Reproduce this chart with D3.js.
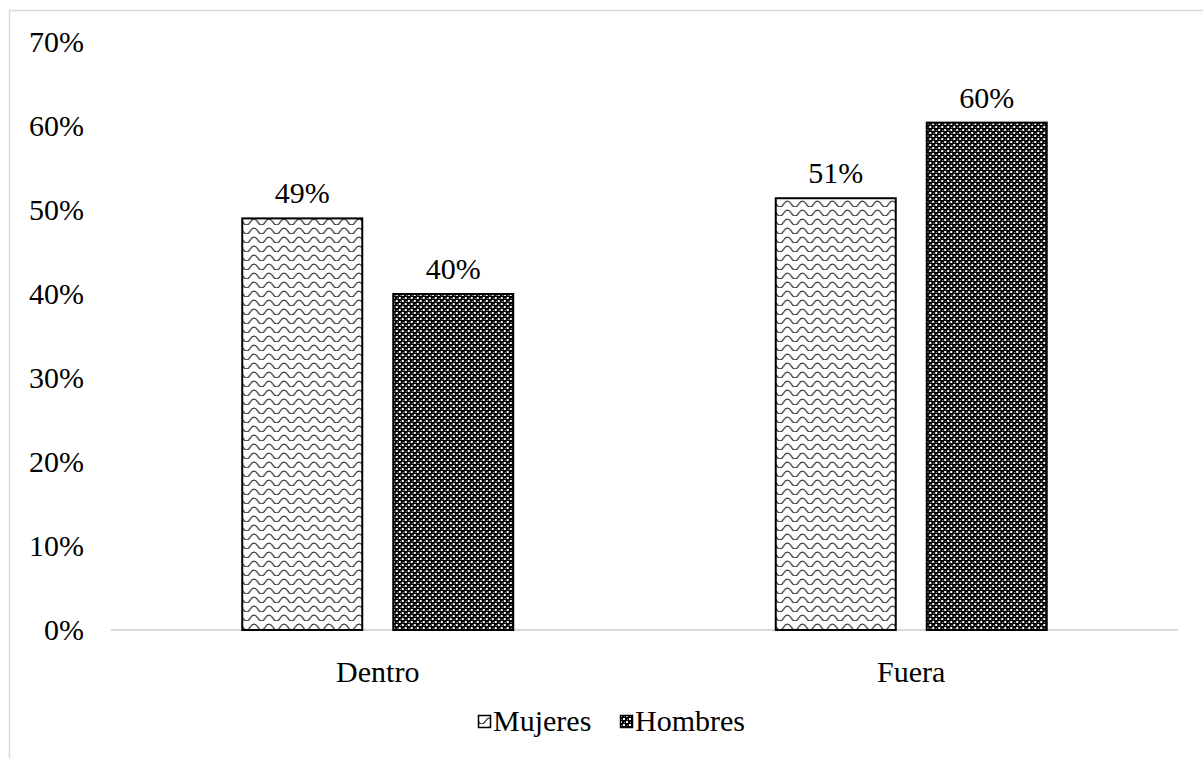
<!DOCTYPE html>
<html>
<head>
<meta charset="utf-8">
<script src="https://cdn.jsdelivr.net/npm/d3@7"></script>
<style>
  html, body { margin: 0; padding: 0; background: #fff; }
  svg { display: block; }
  text { font-family: "Liberation Serif", "DejaVu Serif", serif; fill: #000; }
</style>
</head>
<body>
<svg id="chart" width="1203" height="758"></svg>
<script>
// Share of men and women, inside vs. outside
const categories = ["Dentro", "Fuera"];
const seriesNames = ["Mujeres", "Hombres"];
const mujeres = [0.49, 0.514];
const hombres = [0.40, 0.604];
const yTicks = [0, 0.1, 0.2, 0.3, 0.4, 0.5, 0.6, 0.7];

const svg = d3.select("#chart");
const W = 1203, H = 758;
const plot = { left: 111, right: 1178, top: 42, bottom: 630 };

// Outer chart frame
svg.append("rect")
  .attr("x", 9.5).attr("y", 10.5)
  .attr("width", W).attr("height", H)
  .attr("fill", "#fff").attr("stroke", "#d9d9d9").attr("stroke-width", 1.5);

// Fill patterns
const defs = svg.append("defs");

// Wave pattern for Mujeres
const wave = defs.append("pattern")
  .attr("id", "pat-wave").attr("patternUnits", "userSpaceOnUse")
  .attr("width", 15).attr("height", 9);
wave.append("rect").attr("width", 15).attr("height", 9).attr("fill", "#fff");
wave.append("path")
  .attr("d", "M-7.5,6 Q-3.75,0 0,6 T7.5,6 T15,6 T22.5,6")
  .attr("fill", "none").attr("stroke", "#1a1a1a").attr("stroke-width", 1.1);

// Dotted checker pattern for Hombres
const dots = defs.append("pattern")
  .attr("id", "pat-dots").attr("patternUnits", "userSpaceOnUse")
  .attr("width", 6).attr("height", 6);
dots.append("rect").attr("width", 6).attr("height", 6).attr("fill", "#000");
[[0, 0, 2, "#fff"], [3, 3, 2, "#fff"], [4, 1, 1, "#999"], [1, 4, 1, "#999"]]
  .forEach(([x, y, s, c]) => {
    dots.append("rect").attr("x", x).attr("y", y).attr("width", s).attr("height", s)
      .attr("fill", c).attr("shape-rendering", "crispEdges");
  });

const fills = { Mujeres: "url(#pat-wave)", Hombres: "url(#pat-dots)" };

// Scales
const x0 = d3.scaleBand().domain(categories).range([plot.left, plot.right]).padding(0);
const y = d3.scaleLinear().domain([0, 0.7]).range([plot.bottom, plot.top]);
const barW = 120, gap = 31;
const x1 = d3.scaleOrdinal().domain(seriesNames)
  .range([-(barW + gap) / 2 - barW / 2, (barW + gap) / 2 - barW / 2]);

// Y axis labels (no axis line, no gridlines)
const yAxis = d3.axisLeft(y).tickValues(yTicks).tickFormat(d3.format(".0%")).tickSize(0).tickPadding(0);
const gy = svg.append("g").attr("transform", `translate(84,0)`).call(yAxis);
gy.select(".domain").remove();
gy.selectAll("text").style("font-size", "30px").style("font-family", "Liberation Serif, serif").attr("fill", "#000");

// Baseline
svg.append("line")
  .attr("x1", plot.left).attr("x2", plot.right)
  .attr("y1", y(0)).attr("y2", y(0))
  .attr("stroke", "#d9d9d9").attr("stroke-width", 2);

// Bars
const rows = categories.map((c, i) => ({ cat: c, values: [
  { name: "Mujeres", v: mujeres[i] }, { name: "Hombres", v: hombres[i] }
]}));

const groups = svg.selectAll("g.cat").data(rows).join("g")
  .attr("class", "cat")
  .attr("transform", d => `translate(${x0(d.cat) + x0.bandwidth() / 2},0)`);

groups.selectAll("rect").data(d => d.values).join("rect")
  .attr("x", d => x1(d.name))
  .attr("y", d => y(d.v))
  .attr("width", barW)
  .attr("height", d => y(0) - y(d.v))
  .attr("fill", d => fills[d.name])
  .attr("stroke", "#000").attr("stroke-width", 2);

groups.selectAll("text.val").data(d => d.values).join("text")
  .attr("class", "val")
  .attr("x", d => x1(d.name) + barW / 2)
  .attr("y", d => y(d.v) - 15)
  .attr("text-anchor", "middle")
  .style("font-size", "30px")
  .text(d => d3.format(".0%")(d.v));

// Category axis labels
const xAxis = d3.axisBottom(x0).tickSize(0).tickPadding(0);
const gx = svg.append("g").attr("transform", `translate(0,${plot.bottom})`).call(xAxis);
gx.select(".domain").remove();
gx.selectAll("text").attr("dy", null).attr("y", 52)
  .style("font-size", "30px").style("font-family", "Liberation Serif, serif").attr("fill", "#000");

// Legend
const legendX = [478, 620];
const legend = svg.selectAll("g.leg").data(seriesNames).join("g")
  .attr("class", "leg")
  .attr("transform", (d, i) => `translate(${legendX[i]},715)`);
legend.append("rect")
  .attr("x", 0.5).attr("y", 0.5).attr("width", 12).attr("height", 12)
  .attr("fill", d => fills[d]).attr("stroke", "#000").attr("stroke-width", 1.5);
legend.append("text")
  .attr("x", 15).attr("y", 16)
  .style("font-size", "30px")
  .text(d => d);
</script>
</body>
</html>
